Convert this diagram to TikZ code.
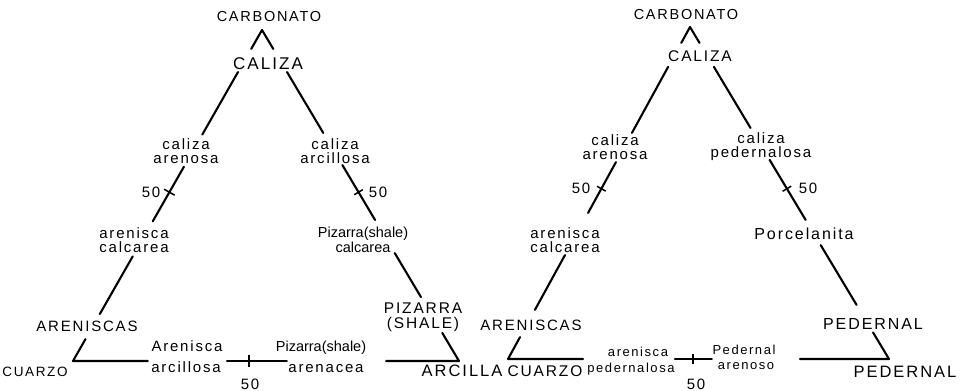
\documentclass[tikz,border=0pt]{standalone}
\usepackage{fontspec}
\setmainfont[LetterSpace=12]{Liberation Sans}
\newfontfamily\plainsans{Liberation Sans}
\usetikzlibrary{calc}
\tikzset{
  lbl/.style={font=\fontsize{15}{14}\selectfont, align=center, inner sep=0pt},
  lbls/.style={font=\fontsize{13}{13}\selectfont, inner sep=0pt, anchor=base},
  lblb/.style={font=\fontsize{15}{15}\selectfont, inner sep=0pt, anchor=base},
  shale/.style={font=\plainsans\fontsize{14.5}{15}\selectfont, align=center, inner sep=0pt},
  capl/.style={font=\fontsize{15}{13}\selectfont, align=center, inner sep=0pt},
  capb/.style={inner sep=0pt, anchor=base},
  bigl/.style={font=\fontsize{17}{17}\selectfont, inner sep=0pt},
  edge/.style={line width=2.1pt, line cap=round, line join=round},
  tick/.style={line width=1.5pt},
}
\begin{document}
\begin{tikzpicture}[x=1pt,y=-1pt]
\useasboundingbox[fill=white] (0,0) rectangle (962,391);

% ---------- carbonate - quartz - clay triangle ----------
\coordinate (A1)  at (262,30);
\coordinate (BL1) at (73,361);
\coordinate (BR1) at (459,361);

\node[font=\fontsize{14.5}{14.5}\selectfont, inner sep=0pt] (carbL) at (269,17) {CARBONATO};
\node[bigl] (calL)  at (268,64) {CALIZA};
\node[lbl]  (caL)   at (186,151) {caliza\\arenosa};
\node[lbl]  (arcL)  at (335,151) {caliza\\arcillosa};
\node[lbl]  (fiftyLL) at (151,192) {50};
\node[lbl]  (fiftyLR) at (378,192) {50};
\node[lbl]  (acL)   at (134,240) {arenisca\\calcarea};
\node[shale] (pcL)  at (363,240) {Pizarra(shale)\\calcarea};
\node[capl] (arnL)  at (87,326) {ARENISCAS};
\node[font=\fontsize{15.5}{15}\selectfont, align=center, inner sep=0pt] (pzL) at (423,317) {PIZARRA\\(SHALE)};
\node[capb, font=\fontsize{13.5}{13.5}\selectfont] (cuL) at (35,376) {CUARZO};
\node[capb, font=\fontsize{16.5}{16.5}\selectfont] (arcilla) at (462,376) {ARCILLA};
\node[lblb] (baU) at (187,351) {Arenisca};
\node[lblb] (baD) at (186,372) {arcillosa};
\node[shale, anchor=base] (bpU) at (321,351) {Pizarra(shale)};
\node[lblb] (bpD) at (326,372) {arenacea};
\node[lblb] (fiftyLB) at (250,389) {50};

% left side
\draw[edge] ($(A1)!0.057!(BL1)$) -- (A1) -- ($(A1)!0.057!(BR1)$);
\draw[edge] ($(A1)!0.127!(BL1)$) -- ($(A1)!0.316!(BL1)$);
\draw[edge] ($(A1)!0.413!(BL1)$) -- ($(A1)!0.578!(BL1)$);
\draw[edge] ($(A1)!0.684!(BL1)$) -- ($(A1)!0.858!(BL1)$);
\draw[edge] ($(A1)!0.934!(BL1)$) -- (BL1) -- ($(BL1)!0.194!(BR1)$);
% right side
\draw[edge] ($(A1)!0.127!(BR1)$) -- ($(A1)!0.311!(BR1)$);
\draw[edge] ($(A1)!0.408!(BR1)$) -- ($(A1)!0.574!(BR1)$);
\draw[edge] ($(A1)!0.674!(BR1)$) -- ($(A1)!0.807!(BR1)$);
\draw[edge] ($(A1)!0.915!(BR1)$) -- (BR1) -- ($(BR1)!0.189!(BL1)$);
% base
\draw[edge] ($(BL1)!0.399!(BR1)$) -- ($(BL1)!0.554!(BR1)$);
% 50 per cent marks
\coordinate (mLL) at ($(A1)!0.49!(BL1)$);
\coordinate (mLR) at ($(A1)!0.49!(BR1)$);
\coordinate (mLB) at ($(BL1)!0.456!(BR1)$);
\draw[tick] ($(mLL)!6pt!90:(BL1)$) -- ($(mLL)!6pt!-90:(BL1)$);
\draw[tick] ($(mLR)!5pt!90:(BR1)$) -- ($(mLR)!5pt!-90:(BR1)$);
\draw[tick] ($(mLB)!6pt!90:(BR1)$) -- ($(mLB)!6pt!-90:(BR1)$);

% ---------- carbonate - quartz - chert triangle ----------
\coordinate (A2)  at (690,27);
\coordinate (BL2) at (508,359);
\coordinate (BR2) at (889,359);

\node[font=\fontsize{14.5}{14.5}\selectfont, inner sep=0pt] (carbR) at (686,15) {CARBONATO};
\node[font=\fontsize{15.5}{15.5}\selectfont, inner sep=0pt] (calR) at (700,56) {CALIZA};
\node[lbl]  (caR)   at (615,147) {caliza\\arenosa};
\node[lbl]  (cpR)   at (761,147) {caliza\\pedernalosa};
\node[lbl]  (fiftyRL) at (581,188) {50};
\node[lbl]  (fiftyRR) at (808,188) {50};
\node[lbl]  (acR)   at (565,240) {arenisca\\calcarea};
\node[font=\fontsize{16}{16}\selectfont, inner sep=0pt] (porR) at (804,234) {Porcelanita};
\node[capl] (arnR)  at (531,325) {ARENISCAS};
\node[font=\fontsize{16}{16}\selectfont, inner sep=0pt] (pedU) at (873,324) {PEDERNAL};
\node[capb, font=\fontsize{15.5}{15.5}\selectfont] (cuR) at (545,376) {CUARZO};
\node[capb, font=\fontsize{16.5}{16.5}\selectfont] (pedB) at (905,377) {PEDERNAL};
\node[lbls] (apU) at (638,356) {arenisca};
\node[lbls] (apD) at (631,372) {pedernalosa};
\node[lbls] (paU) at (744,354) {Pedernal};
\node[lbls] (paD) at (746,369) {arenoso};
\node[lblb] (fiftyRB) at (696,389) {50};

% left side
\draw[edge] ($(A2)!0.048!(BL2)$) -- (A2) -- ($(A2)!0.048!(BR2)$);
\draw[edge] ($(A2)!0.12!(BL2)$) -- ($(A2)!0.319!(BL2)$);
\draw[edge] ($(A2)!0.407!(BL2)$) -- ($(A2)!0.56!(BL2)$);
\draw[edge] ($(A2)!0.687!(BL2)$) -- ($(A2)!0.852!(BL2)$);
\draw[edge] ($(A2)!0.934!(BL2)$) -- (BL2) -- ($(BL2)!0.197!(BR2)$);
% right side
\draw[edge] ($(A2)!0.12!(BR2)$) -- ($(A2)!0.304!(BR2)$);
\draw[edge] ($(A2)!0.4!(BR2)$) -- ($(A2)!0.581!(BR2)$);
\draw[edge] ($(A2)!0.657!(BR2)$) -- ($(A2)!0.837!(BR2)$);
\draw[edge] ($(A2)!0.92!(BR2)$) -- (BR2) -- ($(BR2)!0.234!(BL2)$);
% base
\draw[edge] ($(BL2)!0.438!(BR2)$) -- ($(BL2)!0.535!(BR2)$);
% 50 per cent marks
\coordinate (mRL) at ($(A2)!0.487!(BL2)$);
\coordinate (mRR) at ($(A2)!0.487!(BR2)$);
\coordinate (mRB) at ($(BL2)!0.486!(BR2)$);
\draw[tick] ($(mRL)!5pt!90:(BL2)$) -- ($(mRL)!5pt!-90:(BL2)$);
\draw[tick] ($(mRR)!5pt!90:(BR2)$) -- ($(mRR)!5pt!-90:(BR2)$);
\draw[tick] ($(mRB)!5pt!90:(BR2)$) -- ($(mRB)!5pt!-90:(BR2)$);
\end{tikzpicture}
\end{document}
